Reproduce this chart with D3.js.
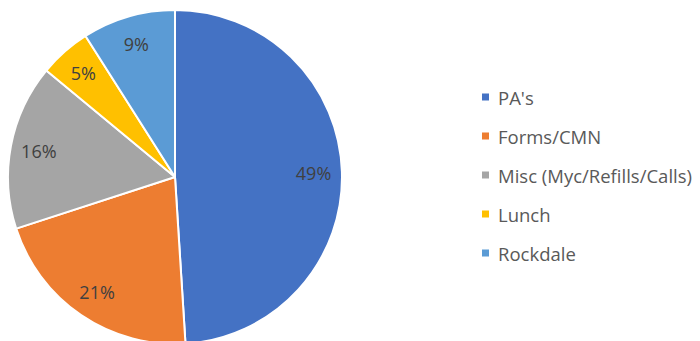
<!DOCTYPE html>
<html>
<head>
<meta charset="utf-8">
<script src="https://cdn.jsdelivr.net/npm/d3@7"></script>
<style>
  html, body { margin: 0; padding: 0; background: #fff; }
  svg { display: block; }
</style>
</head>
<body>
<svg id="chart" width="700" height="341"></svg>
<script>
// Share of work by task type
const categories = ["PA's", "Forms/CMN", "Misc (Myc/Refills/Calls)", "Lunch", "Rockdale"];
const values = [49, 21, 16, 5, 9];
const colors = ["#4472C4", "#ED7D31", "#A5A5A5", "#FFC000", "#5B9BD5"];

const svg = d3.select("#chart");
const cx = 175, cy = 177, radius = 167;

const data = categories.map((c, i) => ({ name: c, value: values[i], color: colors[i] }));

const pie = d3.pie().value(d => d.value).sort(null);
const arc = d3.arc().innerRadius(0).outerRadius(radius);
const labelArc = d3.arc().innerRadius(radius * 0.83).outerRadius(radius * 0.83);

const g = svg.append("g").attr("transform", `translate(${cx},${cy})`);
const arcs = pie(data);

g.selectAll("path.slice")
  .data(arcs)
  .join("path")
  .attr("class", "slice")
  .attr("d", arc)
  .attr("fill", d => d.data.color)
  .attr("stroke", "#fff")
  .attr("stroke-width", 2)
  .attr("stroke-linejoin", "round");

const total = d3.sum(values);
g.selectAll("text.pct")
  .data(arcs)
  .join("text")
  .attr("class", "pct")
  .attr("transform", d => `translate(${labelArc.centroid(d)})`)
  .attr("text-anchor", "middle")
  .attr("dominant-baseline", "central")
  .attr("font-family", "'Open Sans', sans-serif")
  .attr("font-size", 18)
  .attr("fill", "#404040")
  .text(d => Math.round(d.data.value / total * 100) + "%");

// Legend
const legendY = d3.scalePoint().domain(categories).range([97, 253]);
const legend = svg.append("g");
const item = legend.selectAll("g")
  .data(data)
  .join("g")
  .attr("transform", d => `translate(482,${legendY(d.name)})`);
item.append("rect")
  .attr("x", 0).attr("y", -3.5)
  .attr("width", 7).attr("height", 7)
  .attr("fill", d => d.color);
item.append("text")
  .attr("x", 16)
  .attr("dominant-baseline", "central")
  .attr("font-family", "'Open Sans', sans-serif")
  .attr("font-size", 18.5)
  .attr("fill", "#595959")
  .text(d => d.name);
</script>
</body>
</html>
